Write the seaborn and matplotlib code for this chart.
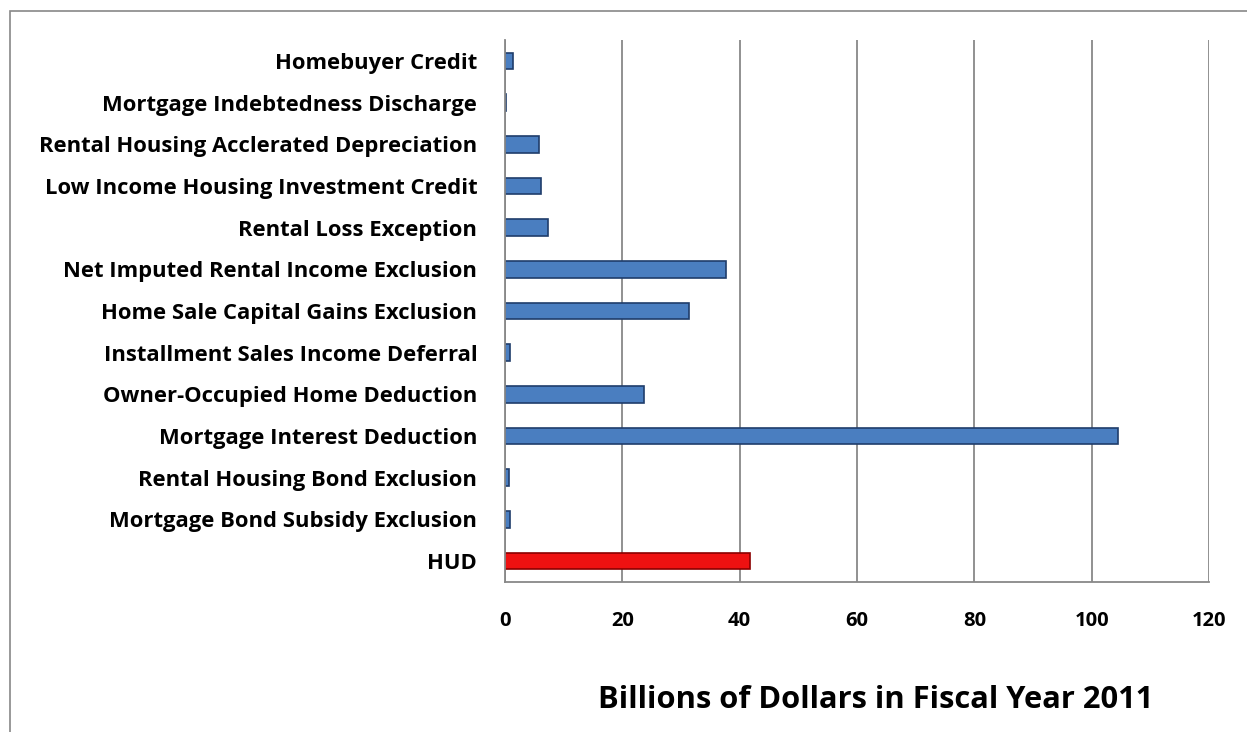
import pandas as pd
import numpy as np
import seaborn as sns
import matplotlib.pyplot as plt
from matplotlib.patches import Rectangle

# Housing tax expenditures vs HUD budget, FY2011 (billions), top to bottom
programs = ['Homebuyer Credit', 'Mortgage Indebtedness Discharge',
            'Rental Housing Acclerated Depreciation', 'Low Income Housing Investment Credit',
            'Rental Loss Exception', 'Net Imputed Rental Income Exclusion',
            'Home Sale Capital Gains Exclusion', 'Installment Sales Income Deferral',
            'Owner-Occupied Home Deduction', 'Mortgage Interest Deduction',
            'Rental Housing Bond Exclusion', 'Mortgage Bond Subsidy Exclusion', 'HUD']
billions = [1.4, 0.1, 5.8, 6.1, 7.3, 37.7, 31.4, 0.85, 23.7, 104.5, 0.75, 0.9, 41.7]
xticks = [0, 20, 40, 60, 80, 100, 120]

df = pd.DataFrame({'program': programs, 'billions': billions})

sns.set_style('white')
plt.rcParams['font.family'] = ['Open Sans', 'DejaVu Sans']
plt.rcParams['text.color'] = 'black'
plt.rcParams['axes.labelcolor'] = 'black'
plt.rcParams['xtick.color'] = 'black'
plt.rcParams['ytick.color'] = 'black'

blue = '#4A7EC0'
red = '#EE1111'
colors = [red if p == 'HUD' else blue for p in programs]
edges = ['#8B0000' if p == 'HUD' else '#1F3D6B' for p in programs]

fig = plt.figure(figsize=(12.47, 7.32), dpi=100)
ax = fig.add_axes([505 / 1247, 1 - 582 / 732, 704 / 1247, 542 / 732])

sns.barplot(data=df, x='billions', y='program', hue='program', palette=colors,
            orient='h', width=0.4, legend=False, ax=ax, saturation=1)
for bar, ec in zip(ax.patches, edges):
    bar.set_edgecolor(ec)
    bar.set_linewidth(1.2)

ax.set_xlim(0, 120)
ax.set_ylim(len(programs) - 0.5, -0.5)
ax.set_xticks(xticks)
ax.set_xticklabels([str(t) for t in xticks], fontsize=14.5, fontweight='bold')
ax.tick_params(axis='x', length=7, width=1.2, color='#888888', pad=14)
ax.xaxis.grid(True, color='#888888', linewidth=1.3)
ax.set_axisbelow(True)

# category labels, tick marks between categories
ax.set_yticks(range(len(programs)))
ax.set_yticklabels(programs, fontsize=15.8, fontweight='bold')
ax.tick_params(axis='y', which='major', length=0, pad=20)
ax.set_yticks(np.arange(len(programs) + 1) - 0.5, minor=True)
ax.tick_params(axis='y', which='minor', length=7, width=1.2, color='#888888')

for side in ['top', 'right']:
    ax.spines[side].set_visible(False)
for side in ['left', 'bottom']:
    ax.spines[side].set_color('#888888')
    ax.spines[side].set_linewidth(1.3)

ax.set_ylabel('')
ax.set_xlabel('Billions of Dollars in Fiscal Year 2011', fontsize=22.2, fontweight='bold')
ax.xaxis.set_label_coords(0.526, -0.19)

# outer chart border
fig.patches.append(Rectangle((10 / 1247, -0.05), 1.1, 1 - 11 / 732 + 0.05,
                             transform=fig.transFigure, fill=False,
                             edgecolor='#888888', linewidth=1.2))

fig.savefig('out.png', dpi=100)
